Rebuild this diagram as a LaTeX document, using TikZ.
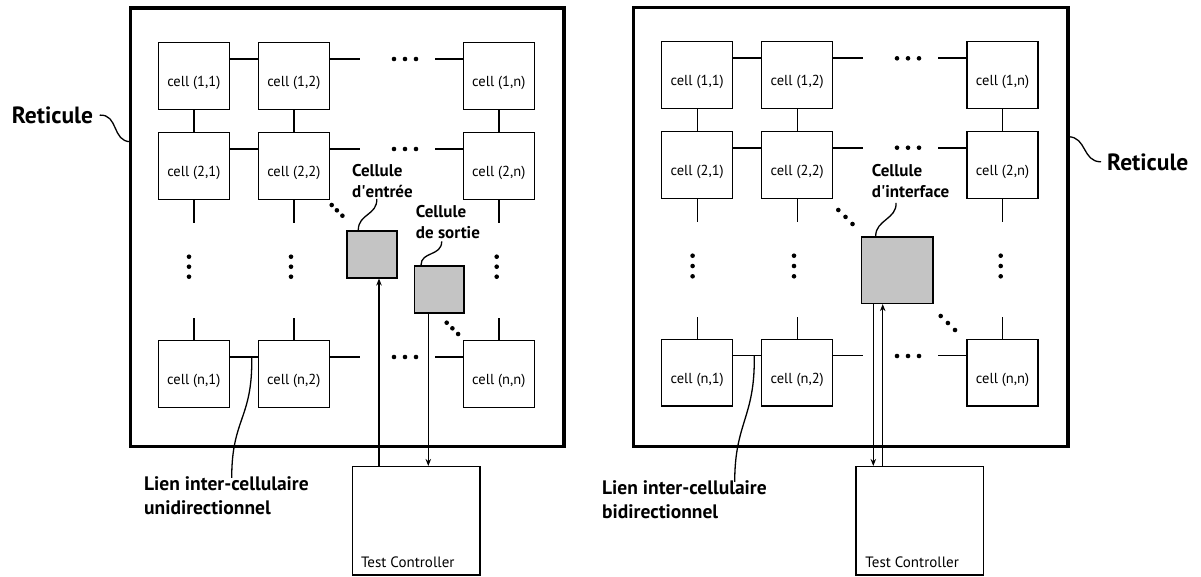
\documentclass[tikz,border=0pt]{standalone}
\usepackage{fontspec}
\setmainfont{PT Sans}
\usetikzlibrary{arrows.meta}
\definecolor{cellgrey}{RGB}{196,196,196}

\begin{document}
\begin{tikzpicture}[x=1pt,y=-1pt,>={Stealth[length=7pt,width=5.5pt]},node distance=100pt,
  cellbox/.style={draw, line width=1.5pt, minimum width=71pt, inner sep=0pt, text height=44pt, text depth=22.7pt, font=\fontsize{14.5}{18}\selectfont},
  greycell/.style={draw, line width=1.6pt, fill=cellgrey, inner sep=0pt},
  tcbox/.style={draw, line width=1.5pt, minimum width=127.5pt, minimum height=108.3pt},
  tctext/.style={font=\fontsize{15}{18}\selectfont, inner sep=0pt, anchor=base west},
  link/.style={line width=1.4pt},
  lead/.style={line width=1.3pt},
  arr/.style={line width=1.3pt, ->},
  bigtitle/.style={font=\fontsize{23.5}{28}\selectfont\bfseries, inner sep=0pt, anchor=base west},
  celllabel/.style={font=\fontsize{17}{21}\selectfont\bfseries, align=left, inner sep=0pt, anchor=base west},
  linklabel/.style={font=\fontsize{19.5}{24}\selectfont\bfseries, align=left, inner sep=0pt, anchor=base west}]
  \useasboundingbox (0,0) rectangle (1201,576);

  % left: unidirectional links
  \node [draw, line width=3.5pt, minimum width=433.3pt, minimum height=438.7pt, outer sep=0pt] (retA) at (347.35,227.35) {};
  \node [cellbox] (a11) at (193.8,76) {cell (1,1)};
  \node [cellbox,right of=a11] (a12) {cell (1,2)};
  \node [cellbox,right of=a12,node distance=205pt] (a1n) {cell (1,n)};
  \node [cellbox,below of=a11,node distance=90pt] (a21) {cell (2,1)};
  \node [cellbox,right of=a21] (a22) {cell (2,2)};
  \node [cellbox,right of=a22,node distance=205pt] (a2n) {cell (2,n)};
  \node [cellbox,below of=a21,node distance=208pt] (an1) {cell (n,1)};
  \node [cellbox,right of=an1] (an2) {cell (n,2)};
  \node [cellbox,right of=an2,node distance=205pt] (ann) {cell (n,n)};

  \draw[link] ([yshift=17pt]a11.east) -- ([yshift=17pt]a12.west);
  \draw[link] ([yshift=17pt]a12.east) -- ++(30,0);
  \draw[link] ([yshift=17pt]a1n.west) -- ++(-28,0);
  \draw[link] ([yshift=17pt]a21.east) -- ([yshift=17pt]a22.west);
  \draw[link] ([yshift=17pt]a22.east) -- ++(30,0);
  \draw[link] ([yshift=17pt]a2n.west) -- ++(-28,0);
  \draw[link] ([yshift=17pt]an1.east) -- ([yshift=17pt]an2.west);
  \draw[link] ([yshift=17pt]an2.east) -- ++(30,0);
  \draw[link] ([yshift=17pt]ann.west) -- ++(-28,0);
  \draw[link] (a11.south) -- (a21.north);
  \draw[link] (a12.south) -- (a22.north);
  \draw[link] (a1n.south) -- (a2n.north);
  \draw[link] (a21.south) -- ++(0,23);
  \draw[link] (a22.south) -- ++(0,23);
  \draw[link] (a2n.south) -- ++(0,23);
  \draw[link] (an1.north) -- ++(0,-22);
  \draw[link] (an2.north) -- ++(0,-22);
  \draw[link] (ann.north) -- ++(0,-22);

  \fill (394,59) circle (2.3pt) (405,59) circle (2.3pt) (416,59) circle (2.3pt);
  \fill (394,149) circle (2.3pt) (405,149) circle (2.3pt) (416,149) circle (2.3pt);
  \fill (394,357) circle (2.3pt) (405,357) circle (2.3pt) (416,357) circle (2.3pt);
  \fill (189,256.7) circle (2.3pt) (189,266.7) circle (2.3pt) (189,276.7) circle (2.3pt);
  \fill (291,256.7) circle (2.3pt) (291,266.7) circle (2.3pt) (291,276.7) circle (2.3pt);
  \fill (496.7,256.7) circle (2.3pt) (496.7,266.7) circle (2.3pt) (496.7,276.7) circle (2.3pt);
  \fill (331.7,205) circle (2.3pt) (336.9,210.3) circle (2.3pt) (342.4,215.7) circle (2.3pt);
  \fill (446.7,322.7) circle (2.3pt) (452.4,328.3) circle (2.3pt) (458.1,334) circle (2.3pt);

  \node [greycell, minimum width=50pt, minimum height=47pt] (entree) at (371.7,254.2) {};
  \node [greycell, minimum width=49.4pt, minimum height=46.7pt] (sortie) at (439,289.35) {};
  \node [tcbox] (tcA) at (416.35,520.85) {};
  \node [tctext] (tcAtext) at ([xshift=9pt,yshift=8pt]tcA.south west) {Test Controller};

  \coordinate (upA) at ([xshift=7.3pt]entree.south);
  \coordinate (downA) at ([xshift=-10.7pt]sortie.south);
  \draw[arr] (upA |- tcA.north) -- (upA);
  \draw[arr] (downA) -- (downA |- tcA.north);

  \node [bigtitle] (retAtext) at (11.7,123.3) {Reticule};
  \node [celllabel] (entreetext) at (352,197) {Cellule\\d\textquotesingle entrée};
  \node [celllabel] (sortietext) at (415.7,238) {Cellule\\de sortie};
  \node [linklabel] (lienA) at (144,514) {Lien inter-cellulaire\\unidirectionnel};

  \draw[lead] ([xshift=6.5pt]retAtext.east) .. controls +(19,-1) and +(-19,0) .. ([yshift=85.65pt]retA.west);
  \draw[lead] ([xshift=24.7pt,yshift=-1.5pt]entreetext.south west) .. controls +(1,16) and +(0,-16) .. ([xshift=-13.4pt]entree.north);
  \draw[lead] ([xshift=26pt,yshift=-3pt]sortietext.south west) .. controls +(0,15) and +(0,-14) .. ([xshift=-18pt]sortie.north);
  \draw[lead] ([xshift=21.7pt,yshift=17pt]an1.east) .. controls +(1,62) and +(0,-60) .. ([xshift=87.7pt,yshift=-2pt]lienA.north west);

  % right: bidirectional links
  \node [draw, line width=3.5pt, minimum width=434.3pt, minimum height=439.4pt, outer sep=0pt] (retB) at (850.85,227) {};
  \node [cellbox] (b11) at (697.2,75) {cell (1,1)};
  \node [cellbox,right of=b11] (b12) {cell (1,2)};
  \node [cellbox,right of=b12,node distance=205.3pt] (b1n) {cell (1,n)};
  \node [cellbox,below of=b11,node distance=90pt] (b21) {cell (2,1)};
  \node [cellbox,right of=b21] (b22) {cell (2,2)};
  \node [cellbox,right of=b22,node distance=205.3pt] (b2n) {cell (2,n)};
  \node [cellbox,below of=b21,node distance=207.7pt] (bn1) {cell (n,1)};
  \node [cellbox,right of=bn1] (bn2) {cell (n,2)};
  \node [cellbox,right of=bn2,node distance=205.3pt] (bnn) {cell (n,n)};

  \draw[link] ([yshift=17pt]b11.east) -- ([yshift=17pt]b12.west);
  \draw[link] ([yshift=17pt]b12.east) -- ++(30,0);
  \draw[link] ([yshift=17pt]b1n.west) -- ++(-28,0);
  \draw[link] ([yshift=17pt]b21.east) -- ([yshift=17pt]b22.west);
  \draw[link] ([yshift=17pt]b22.east) -- ++(30,0);
  \draw[link] ([yshift=17pt]b2n.west) -- ++(-28,0);
  \draw[link] ([yshift=17pt]bn1.east) -- ([yshift=17pt]bn2.west);
  \draw[link] ([yshift=17pt]bn2.east) -- ++(30,0);
  \draw[link] ([yshift=17pt]bnn.west) -- ++(-28,0);
  \draw[link] (b11.south) -- (b21.north);
  \draw[link] (b12.south) -- (b22.north);
  \draw[link] (b1n.south) -- (b2n.north);
  \draw[link] (b21.south) -- ++(0,23);
  \draw[link] (b22.south) -- ++(0,23);
  \draw[link] (b2n.south) -- ++(0,23);
  \draw[link] (bn1.north) -- ++(0,-22);
  \draw[link] (bn2.north) -- ++(0,-22);
  \draw[link] (bnn.north) -- ++(0,-22);

  \fill (897,58.3) circle (2.3pt) (908,58.3) circle (2.3pt) (919,58.3) circle (2.3pt);
  \fill (897,147.7) circle (2.3pt) (908,147.7) circle (2.3pt) (919,147.7) circle (2.3pt);
  \fill (897,356) circle (2.3pt) (908,356) circle (2.3pt) (919,356) circle (2.3pt);
  \fill (692.6,255.7) circle (2.3pt) (692.6,266) circle (2.3pt) (692.6,276.3) circle (2.3pt);
  \fill (794,255.7) circle (2.3pt) (794,266) circle (2.3pt) (794,276.3) circle (2.3pt);
  \fill (1000.7,255.7) circle (2.3pt) (1000.7,266) circle (2.3pt) (1000.7,276.3) circle (2.3pt);
  \fill (838.3,210) circle (2.3pt) (845.5,216.9) circle (2.3pt) (852.5,224) circle (2.3pt);
  \fill (940.7,316) circle (2.3pt) (947.9,323) circle (2.3pt) (955,330) circle (2.3pt);

  \node [greycell, minimum width=71.4pt, minimum height=66.6pt] (interface) at (897,270) {};
  \node [tcbox] (tcB) at (919.75,520.85) {};
  \node [tctext] (tcBtext) at ([xshift=10pt,yshift=8pt]tcB.south west) {Test Controller};

  \coordinate (downB) at ([xshift=-23.7pt]interface.south);
  \coordinate (upB) at ([xshift=-14.3pt]interface.south);
  \draw[arr] (downB) -- (downB |- tcB.north);
  \draw[arr] (upB |- tcB.north) -- (upB);

  \node [bigtitle] (retBtext) at (1107,170) {Reticule};
  \node [celllabel] (interfacetext) at (871.7,197) {Cellule\\d\textquotesingle interface};
  \node [linklabel] (lienB) at (602,518) {Lien inter-cellulaire\\bidirectionnel};

  \draw[lead] ([yshift=90.3pt]retB.east) .. controls +(19,0) and +(-19,0) .. ([xshift=-6pt]retBtext.west);
  \draw[lead] ([xshift=24.3pt,yshift=-5.5pt]interfacetext.south west) .. controls +(1,16) and +(0,-16) .. ([xshift=-21.3pt]interface.north);
  \draw[lead] ([xshift=20.8pt,yshift=17pt]bn1.east) .. controls +(1,62) and +(0,-60) .. ([xshift=132.7pt,yshift=-2pt]lienB.north west);
\end{tikzpicture}
\end{document}
